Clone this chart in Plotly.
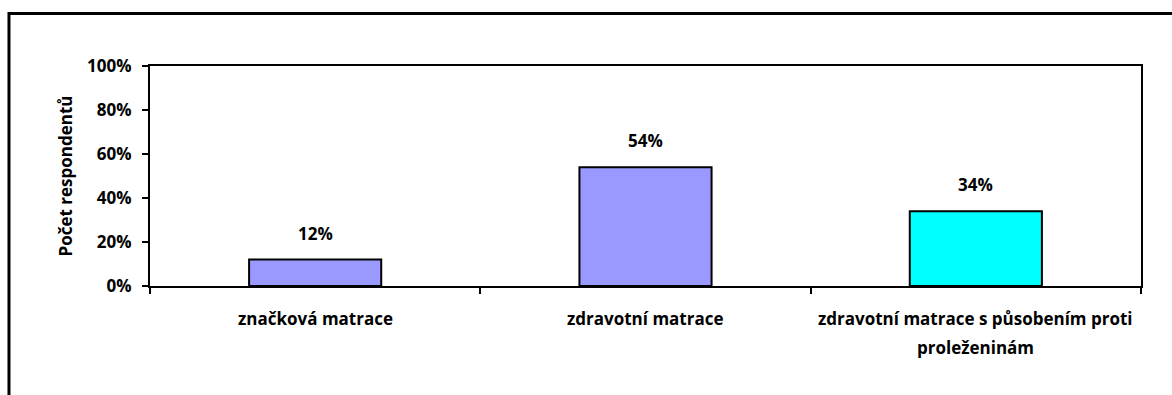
import plotly.graph_objects as go

categories = ["značková matrace", "zdravotní matrace",
              "zdravotní matrace s působením proti<br>proleženinám"]
values = [12, 54, 34]
bar_colors = ["#9999FF", "#9999FF", "#00FFFF"]
y_ticks = [0, 20, 40, 60, 80, 100]
y_tick_labels = [f"{v}%" for v in y_ticks]

FONT = "Open Sans"
SIZE = 17
label_font = dict(family=FONT, size=SIZE, color="black", weight="bold")

fig = go.Figure()
fig.add_trace(go.Bar(
    x=categories,
    y=values,
    width=0.4,
    marker=dict(color=bar_colors, line=dict(color="black", width=2)),
    hoverinfo="skip",
))

# value labels above each bar
for cat, val in zip(categories, values):
    fig.add_annotation(
        x=cat, y=val, text=f"{val}%", showarrow=False,
        yanchor="bottom", yshift=13, font=label_font,
    )

# category labels under the axis, with wider line spacing for wrapped names
for cat in categories:
    for i, line in enumerate(cat.split("<br>")):
        fig.add_annotation(
            x=cat, xref="x", y=0, yref="paper", text=line, showarrow=False,
            yanchor="middle", yshift=-32 - 29 * i, font=label_font,
        )

# outer frame around the chart area
fig.add_shape(
    type="rect", xref="paper", yref="paper",
    x0=-0.1423, x1=1.05, y0=-0.55, y1=1.2386,
    line=dict(color="black", width=3), fillcolor="rgba(0,0,0,0)",
    layer="below",
)

fig.update_layout(
    width=1172, height=395,
    margin=dict(l=150, r=31, t=66, b=109),
    paper_bgcolor="white", plot_bgcolor="white",
    showlegend=False,
    bargap=0.6,
    font=label_font,
    xaxis=dict(
        type="category",
        showline=True, linecolor="black", linewidth=2, mirror=True,
        ticks="outside", tickson="boundaries", ticklen=6, tickwidth=2,
        tickcolor="black",
        showticklabels=False,
        showgrid=False,
    ),
    yaxis=dict(
        range=[0, 100],
        tickvals=y_ticks, ticktext=y_tick_labels,
        showline=True, linecolor="black", linewidth=2, mirror=True,
        ticks="outside", ticklen=6, tickwidth=2, tickcolor="black",
        tickfont=label_font,
        ticklabelstandoff=7,
        showgrid=False, zeroline=False,
        title=dict(text="Počet respondentů", standoff=10, font=label_font),
    ),
)

fig.write_html("out.html")
